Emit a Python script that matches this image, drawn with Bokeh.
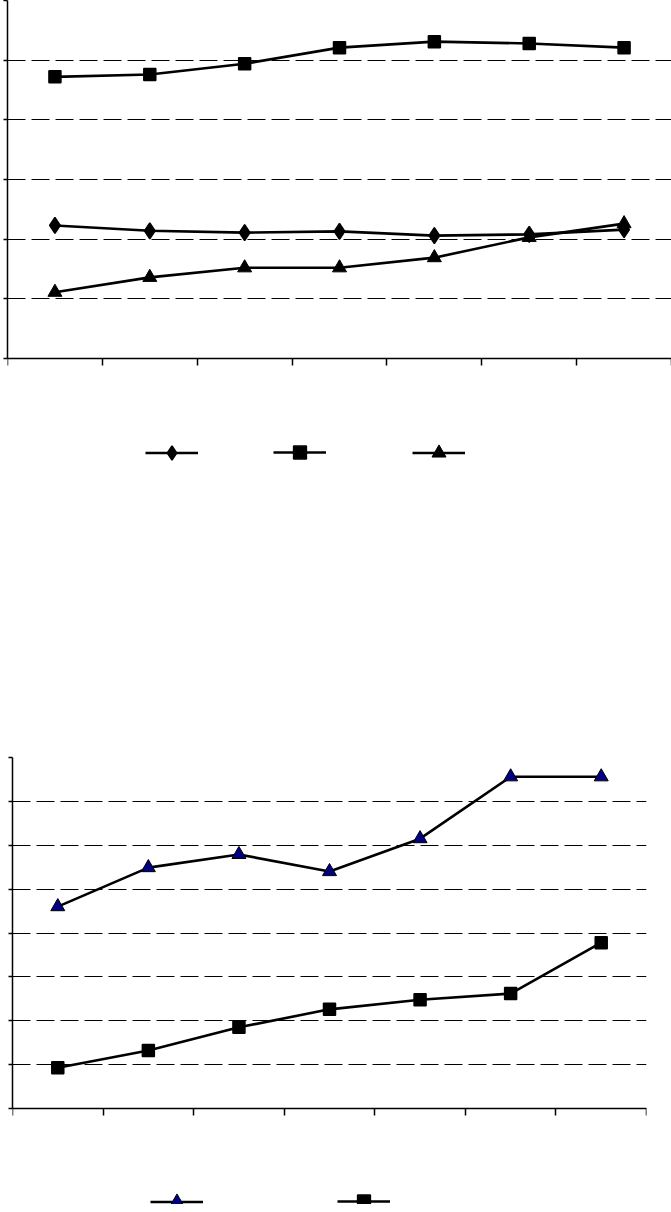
from bokeh.plotting import figure
from bokeh.models import Range1d, FixedTicker, Legend, LegendItem
from bokeh.embed import file_html
from bokeh.resources import INLINE

# ---- data ----
periods = [1, 2, 3, 4, 5, 6, 7]
top_diamond = [2.23, 2.14, 2.11, 2.13, 2.06, 2.08, 2.16]
top_square = [4.72, 4.76, 4.94, 5.21, 5.31, 5.28, 5.21]
top_triangle = [1.11, 1.36, 1.52, 1.52, 1.69, 2.03, 2.26]
bottom_triangle = [4.60, 5.49, 5.79, 5.40, 6.15, 7.56, 7.56]
bottom_square = [0.93, 1.32, 1.85, 2.26, 2.48, 2.62, 3.78]
top_yticks = [0, 1, 2, 3, 4, 5, 6]
bottom_yticks = [0, 1, 2, 3, 4, 5, 6, 7, 8]

boundaries = [p - 0.5 for p in periods] + [periods[-1] + 0.5]

LW = 2.6


def style(p, yticks):
    p.outline_line_color = None
    p.background_fill_color = "white"
    p.border_fill_color = "white"
    p.xgrid.visible = False
    p.ygrid.ticker = FixedTicker(ticks=yticks)
    p.ygrid.grid_line_color = "black"
    p.ygrid.grid_line_dash = "18 6"
    p.ygrid.grid_line_width = 1
    p.xaxis.ticker = FixedTicker(ticks=boundaries)
    p.yaxis.ticker = FixedTicker(ticks=yticks)
    p.xaxis.major_label_overrides = {b: "" for b in boundaries}
    p.yaxis.major_label_overrides = {t: "" for t in yticks}
    p.xaxis.fixed_location = 0
    p.yaxis.bounds = (yticks[0], yticks[-1])
    for ax in (p.xaxis[0], p.yaxis[0]):
        ax.axis_line_color = "black"
        ax.axis_line_width = 1.5
        ax.major_tick_line_color = "black"
        ax.major_tick_line_width = 1.5
        ax.major_tick_in = 0
        ax.minor_tick_line_color = None
        ax.major_label_standoff = 0
    p.xaxis.major_tick_out = 7
    p.yaxis.major_tick_out = 4


def add_key(p, renderers, left, center_y, frame_bottom, gh=35):
    # legend key (line + marker), no label text as in the reference
    lg = Legend(items=[LegendItem(label="", renderers=renderers)],
                location=(left, frame_bottom - (center_y + gh / 2)),
                glyph_width=53, glyph_height=gh, padding=0, margin=0,
                border_line_color=None, background_fill_alpha=0,
                label_standoff=0, label_width=0)
    p.add_layout(lg, "center")


# ---- top chart ----
T_LEFT, T_TOP, T_PLOT_H = 7, 0, 358          # data area in page pixels
T_FRAME_H = 730
t_ppu = T_PLOT_H / (top_yticks[-1] - top_yticks[0])
p1 = figure(frame_width=664, frame_height=T_FRAME_H, output_backend="svg",
            toolbar_location=None, x_range=Range1d(0.5, 7.5),
            y_range=Range1d(top_yticks[-1] - T_FRAME_H / t_ppu, top_yticks[-1]),
            min_border_left=T_LEFT, min_border_right=0,
            min_border_top=T_TOP, min_border_bottom=10)
style(p1, top_yticks)

d_line = p1.line(periods, top_diamond, line_color="black", line_width=LW)
d_mark = p1.scatter(periods, top_diamond, marker="diamond", size=16,
                    fill_color="black", line_color="black", line_width=1.5)
s_line = p1.line(periods, top_square, line_color="black", line_width=LW)
s_mark = p1.scatter(periods, top_square, marker="square", size=12,
                    fill_color="black", line_color="black", line_width=1.5)
t_line = p1.line(periods, top_triangle, line_color="black", line_width=LW)
t_mark = p1.scatter(periods, top_triangle, marker="triangle", size=14,
                    fill_color="black", line_color="black")

add_key(p1, [d_line, d_mark], 145 - T_LEFT, 452, T_FRAME_H)
add_key(p1, [s_line, s_mark], 273 - T_LEFT, 452, T_FRAME_H, gh=32)
add_key(p1, [t_line, t_mark], 412 - T_LEFT, 452, T_FRAME_H)

# ---- bottom chart ----
B_LEFT, B_TOP, B_PLOT_H = 12, 757, 351
P1_H = T_FRAME_H + 10
B_FRAME_H = 447
b_ppu = B_PLOT_H / (bottom_yticks[-1] - bottom_yticks[0])
p2 = figure(frame_width=634, frame_height=B_FRAME_H, output_backend="svg",
            toolbar_location=None, x_range=Range1d(0.5, 7.5),
            y_range=Range1d(bottom_yticks[-1] - B_FRAME_H / b_ppu, bottom_yticks[-1]),
            min_border_left=B_LEFT, min_border_right=25,
            min_border_top=B_TOP - P1_H, min_border_bottom=8)
style(p2, bottom_yticks)

bt_line = p2.line(periods, bottom_triangle, line_color="black", line_width=LW)
bt_mark = p2.scatter(periods, bottom_triangle, marker="triangle", size=14,
                     fill_color="#000080", line_color="black")
bs_line = p2.line(periods, bottom_square, line_color="black", line_width=LW)
bs_mark = p2.scatter(periods, bottom_square, marker="square", size=12,
                     fill_color="black", line_color="black", line_width=1.5)

add_key(p2, [bt_line, bt_mark], 150 - B_LEFT, 1201 - B_TOP, B_FRAME_H)
add_key(p2, [bs_line, bs_mark], 337 - B_LEFT, 1201 - B_TOP, B_FRAME_H, gh=32)

# two separate roots so that the two plot frames are not aligned to each other
open("out.html", "w").write(file_html([p1, p2], INLINE))
